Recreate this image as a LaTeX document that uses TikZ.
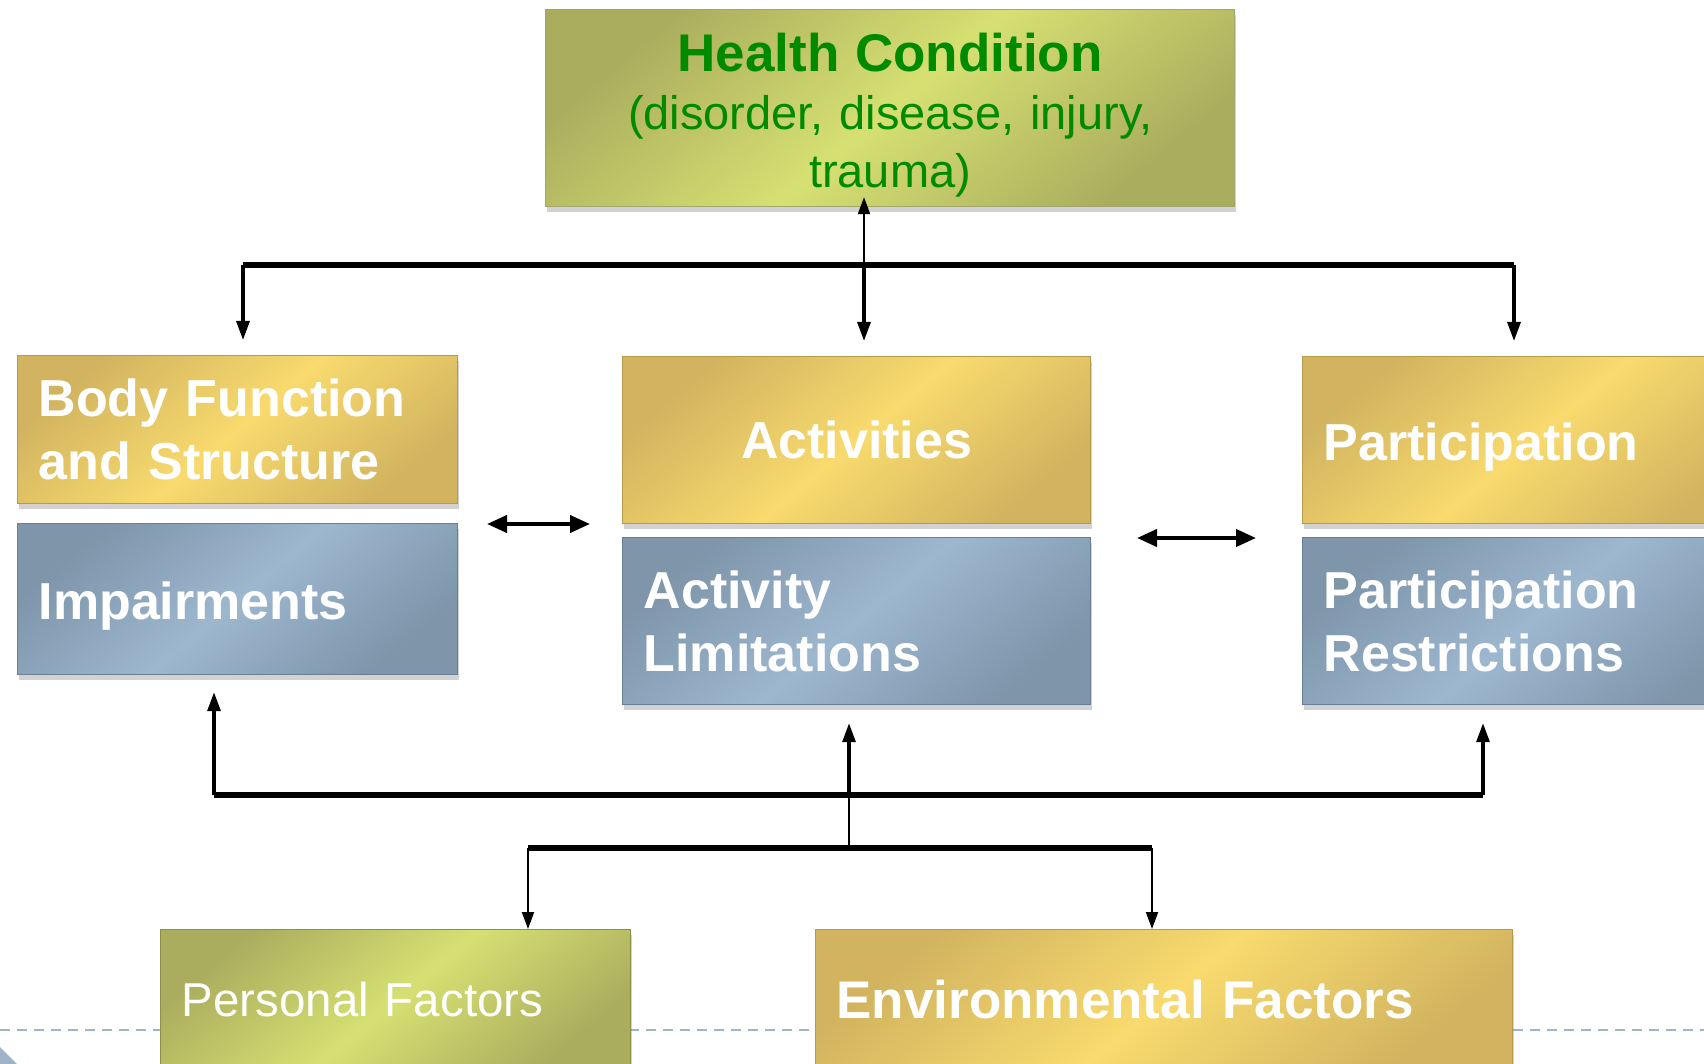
\documentclass[tikz,border=0pt]{standalone}
\usepackage{fontspec}
\setmainfont{Liberation Sans}
\usetikzlibrary{arrows.meta,shadows,positioning}

\definecolor{golddark}{HTML}{D2B460}
\definecolor{goldlight}{HTML}{F8DA6E}
\definecolor{goldline}{HTML}{B79A4C}
\definecolor{bluedark}{HTML}{7E95AA}
\definecolor{bluelight}{HTML}{9DB7CF}
\definecolor{blueline}{HTML}{687F96}
\definecolor{greendark}{HTML}{ABAD5E}
\definecolor{greenlight}{HTML}{D6E072}
\definecolor{greenline}{HTML}{8C9046}
\definecolor{hctext}{HTML}{008A00}
\definecolor{dashblue}{HTML}{9FB4C8}

\tikzset{
	box/.style={anchor=north west, inner xsep=21pt, inner ysep=0pt, align=left,
		text=white, font=\bfseries\fontsize{52}{63}\selectfont, line width=1.2pt,
		drop shadow={shadow xshift=1.5pt, shadow yshift=-5pt, opacity=0.35}},
	goldbox/.style={box, left color=golddark, right color=golddark, middle color=goldlight, shading angle=40, draw=goldline},
	bluebox/.style={box, left color=bluedark, right color=bluedark, middle color=bluelight, shading angle=40, draw=blueline},
	greenbox/.style={box, left color=greendark, right color=greendark, middle color=greenlight, shading angle=40, draw=greenline},
	bus/.style={line width=6pt},
	fatarrow/.style={line width=3.2pt, -{Triangle[length=19pt, width=13pt]}},
	thinarrow/.style={line width=2pt, -{Triangle[length=17pt, width=12pt]}},
	twoway/.style={line width=4pt, {Triangle[length=20pt, width=17pt]}-{Triangle[length=20pt, width=17pt]}}
}

\begin{document}
\begin{tikzpicture}[x=1pt, y=-1pt]
	\useasboundingbox (0,0) rectangle (1704,1064);
	\clip (0,0) rectangle (1704,1064);
	\fill[white] (0,0) rectangle (1704,1064);
	% slide footer
	\draw[dashblue, line width=2pt, dash pattern=on 10pt off 7pt] (0,1030) -- (1704,1030);
	\fill[dashblue] (0,1047) -- (17,1064) -- (0,1064) -- cycle;

	% boxes
	\node[greenbox, align=center, text width=647pt, minimum height=197pt, text=hctext,
		font=\fontsize{47}{58}\selectfont, draw=greenline!80] (hc) at (545,9)
		{\rule{0pt}{52pt}{\bfseries\fontsize{53}{58}\selectfont Health Condition}\\(disorder, disease, injury,\\trauma)};
	\node[goldbox, text width=398pt, minimum height=148pt] (bfs) at (17,355) {Body Function\\and Structure};
	\node[bluebox, text width=398pt, minimum height=151pt] (imp) at (17,523) {\rule{0pt}{52pt}Impairments};
	\node[goldbox, align=center, text width=426pt, minimum height=167pt] (act) at (622,356) {Activities};
	\node[bluebox, text width=426pt, minimum height=167pt] (actlim) at (622,537) {Activity\\Limitations};
	\node[goldbox, text width=418pt, minimum height=167pt] (part) at (1302,356) {\rule{0pt}{52pt}Participation};
	\node[bluebox, text width=418pt, minimum height=167pt] (partres) at (1302,537) {Participation\\Restrictions};
	\node[greenbox, text width=428pt, minimum height=140pt, font=\fontsize{47.5}{58}\selectfont] (pf) at (160,929) {Personal Factors};
	\node[goldbox, text width=655pt, minimum height=140pt, font=\bfseries\fontsize{53}{63}\selectfont] (ef) at (815,929) {Environmental Factors};

	% upper bus
	\coordinate (tl) at (243,265);
	\coordinate (tm) at (864,265);
	\coordinate (tr) at (1514,265);
	\draw[bus] (tl) -- (tr);
	\draw[thinarrow] (tm) -- ([yshift=10pt]tm |- hc.south);
	\draw[fatarrow, shorten >=15pt] (tl) -- (tl |- bfs.north);
	\draw[fatarrow, shorten >=15pt] (tm) -- (tm |- act.north);
	\draw[fatarrow, shorten >=15pt] (tr) -- (tr |- part.north);

	% two-way arrows
	\coordinate (la) at (487,524);
	\coordinate (lb) at (590,524);
	\coordinate (ra) at (1137,538);
	\coordinate (rb) at (1256,538);
	\draw[twoway] (la) -- (lb);
	\draw[twoway] (ra) -- (rb);

	% lower bus
	\coordinate (bl) at (214,795);
	\coordinate (bm) at (849,795);
	\coordinate (br) at (1483,795);
	\draw[bus] (bl) -- (br);
	\draw[fatarrow, shorten >=17pt] (bl) -- (bl |- imp.south);
	\draw[fatarrow, shorten >=18pt] (bm) -- (bm |- actlim.south);
	\draw[fatarrow, shorten >=18pt] (br) -- (br |- partres.south);

	% factors bus
	\coordinate (fl) at (528,848);
	\coordinate (fm) at (849,848);
	\coordinate (fr) at (1152,848);
	\draw[line width=2pt] (bm) -- (fm);
	\draw[bus] (fl) -- (fr);
	\draw[thinarrow] (fl) -- (fl |- pf.north);
	\draw[thinarrow] (fr) -- (fr |- ef.north);
\end{tikzpicture}
\end{document}
